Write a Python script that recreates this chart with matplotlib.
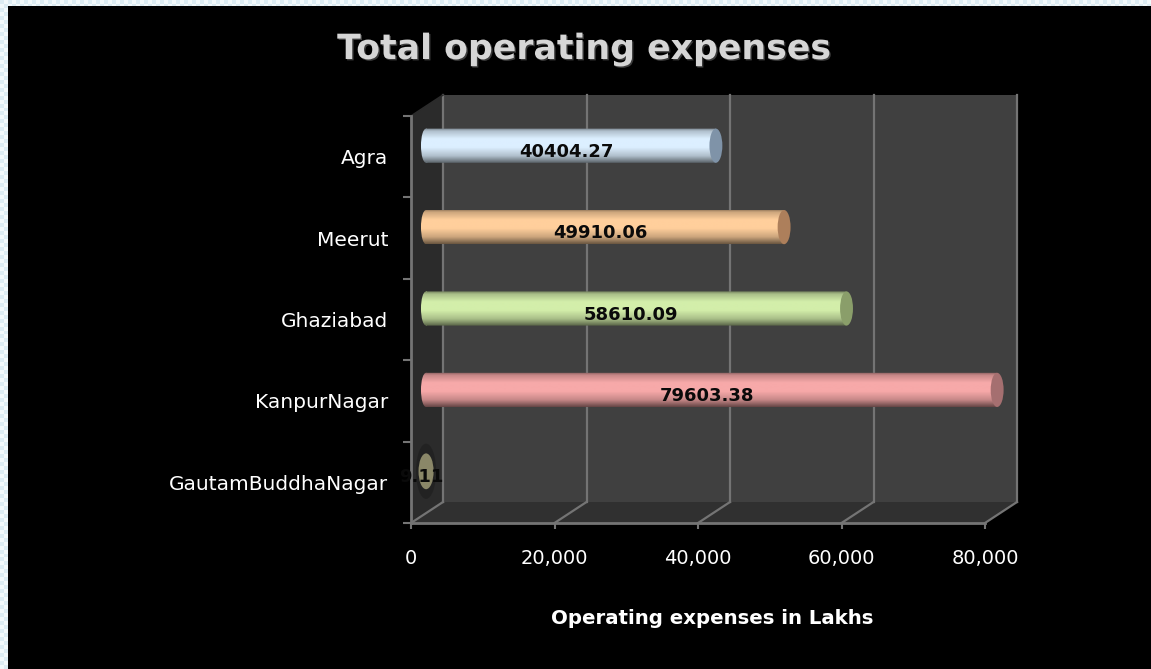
import matplotlib
matplotlib.use("Agg")
import matplotlib.pyplot as plt
import matplotlib.patheffects as pe
import numpy as np
from matplotlib.patches import Ellipse, Polygon
from matplotlib.path import Path
from matplotlib.transforms import Affine2D

W, H = 1151, 669

# bottom-up, same order as the category axis
categories = ["GautamBuddhaNagar", "KanpurNagar", "Ghaziabad", "Meerut", "Agra"]
values = [9.11, 79603.38, 58610.09, 49910.06, 40404.27]
value_labels = ["9.11", "79603.38", "58610.09", "49910.06", "40404.27"]
x_ticks = [0, 20000, 40000, 60000, 80000]
x_tick_labels = ["0", "20,000", "40,000", "60,000", "80,000"]

bar_colors = ["#8a8768", "#f7a9a9", "#d3eeaa", "#ffcf9c", "#dcefff"]
cap_colors = ["#77745a", "#a56f70", "#8a9e6a", "#ad7f5b", "#7f93a8"]

FONT = "DejaVu Sans"
GREY = "#747474"


def px_axes(fig, left, top, right, bottom):
    return fig.add_axes([left / W, 1 - bottom / H, (right - left) / W, (bottom - top) / H])


fig = plt.figure(figsize=(W / 100, H / 100), dpi=100, facecolor="black")

# pale checker border behind the black slide
bg = fig.add_axes([0, 0, 1, 1], zorder=0)
bg.set_xlim(0, W)
bg.set_ylim(H, 0)
bg.axis("off")
yy, xx = np.mgrid[0:H // 4 + 1, 0:W // 4 + 1]
bg.imshow((xx + yy) % 2, cmap=matplotlib.colors.ListedColormap(["#dcecf3", "#f2f9fb"]),
          extent=(0, W, H, 0), aspect="auto", interpolation="nearest")
bg.fill_between([8, W], 6, H, color="black", lw=0)

ax = px_axes(fig, 411, 116, 985, 523)
ax.set_zorder(1)
ax.patch.set_alpha(0)
ax.set_xlim(0, 80000)
ax.set_ylim(0, 5)
for spine in ax.spines.values():
    spine.set_visible(False)

# depth planes of the fake 3D box
back_t = ax.transData + Affine2D().translate(32, 21)
mid_t = ax.transData + Affine2D().translate(15, 11)
label_t = ax.transData + Affine2D().translate(10, 5)

# walls
ax.add_patch(Polygon([(0, 0), (80000, 0), (80000, 5), (0, 5)], transform=back_t,
                     fc="#404040", ec="none", clip_on=False, zorder=1))
left_xy = np.array([ax.transData.transform((0, 0)), back_t.transform((0, 0)),
                    back_t.transform((0, 5)), ax.transData.transform((0, 5))])
ax.add_patch(Polygon(left_xy, transform=None, fc="#2b2b2b", ec="none", clip_on=False, zorder=1))
floor_xy = np.array([ax.transData.transform((0, 0)), ax.transData.transform((80000, 0)),
                     back_t.transform((80000, 0)), back_t.transform((0, 0))])
ax.add_patch(Polygon(floor_xy, transform=None, fc="#303030", ec="none", clip_on=False, zorder=1))

# grid on the back wall and on the floor
for v in x_ticks:
    ax.plot([v, v], [0, 5], transform=back_t, color=GREY, lw=1.6, clip_on=False, zorder=2)
    p0 = ax.transData.transform((v, 0))
    p1 = back_t.transform((v, 0))
    ax.plot([p0[0], p1[0]], [p0[1], p1[1]], transform=None, color=GREY, lw=1.6, clip_on=False, zorder=2)
p0 = ax.transData.transform((0, 5))
p1 = back_t.transform((0, 5))
ax.plot([p0[0], p1[0]], [p0[1], p1[1]], transform=None, color="#2b2b2b", lw=1.2, clip_on=False, zorder=2)
ax.plot([0, 80000], [0, 0], color=GREY, lw=2, clip_on=False, zorder=2)
ax.plot([0, 0], [0, 5], color=GREY, lw=2, clip_on=False, zorder=2)

# cylinders
shade = np.interp(np.linspace(0, 1, 64), [0, 0.08, 0.3, 0.55, 0.8, 1], [0.55, 0.8, 1, 1, 0.8, 0.42])
bar_h = 0.42
cap_w = 1800
left_w = 1400
for i, (val, col, cap) in enumerate(zip(values, bar_colors, cap_colors)):
    y = i + 0.5
    if val > 1000:
        rgb = np.array(matplotlib.colors.to_rgb(col))
        grad = (shade[:, None] * rgb)[:, None, :]
        im = ax.imshow(grad, extent=(-left_w / 2, val, y - bar_h / 2, y + bar_h / 2), aspect="auto",
                       origin="upper", transform=mid_t, zorder=3, interpolation="bilinear")
        outline = Path.make_compound_path(
            Path.unit_rectangle().transformed(Affine2D().scale(val, bar_h).translate(0, y - bar_h / 2)),
            Path.unit_circle().transformed(Affine2D().scale(left_w / 2, bar_h / 2).translate(0, y)),
        )
        im.set_clip_box(fig.bbox)
        im.set_clip_path(outline, mid_t)
        ax.add_patch(Ellipse((val, y), cap_w, bar_h, transform=mid_t, fc=cap, ec="none",
                             clip_on=False, zorder=4))
    else:
        # the near-zero bar only shows its end cap, sitting in a soft shadow
        ax.add_patch(Ellipse((val, y), 2800, 0.68, transform=mid_t, fc="#1c1c1c", ec="none", alpha=0.55,
                             clip_on=False, zorder=3))
        ax.add_patch(Ellipse((val, y), 2100, 0.44, transform=mid_t, fc=col, ec="none",
                             clip_on=False, zorder=4))
    ax.text(val / 2, y, value_labels[i], transform=label_t, ha="center", va="center", color="#0a0a0a",
            fontsize=13, fontweight="bold", family=FONT, clip_on=False, zorder=5)

ax.set_xlim(0, 80000)
ax.set_ylim(0, 5)

# axes ticks
ax.set_xticks(x_ticks)
ax.set_xticklabels(x_tick_labels, family=FONT, fontsize=14, color="white")
ax.tick_params(axis="x", which="major", length=4, width=1.5, color=GREY, pad=15)
ax.set_yticks(range(6))
ax.set_yticklabels([])
ax.tick_params(axis="y", which="major", length=6, width=1.5, color=GREY)
ax.set_yticks(np.arange(5) + 0.5, minor=True)
ax.set_yticklabels(categories, minor=True, family=FONT, fontsize=14.5, color="white")
ax.tick_params(axis="y", which="minor", length=0, pad=16.5)

fig.text(584 / W, 1 - 49 / H, "Total operating expenses", ha="center", va="center", family=FONT,
         fontsize=25, fontweight="bold", color="#d6d6d6",
         path_effects=[pe.withSimplePatchShadow(offset=(1, -1), shadow_rgbFace="#555555", alpha=0.7)])
fig.text(712 / W, 1 - 618 / H, "Operating expenses in Lakhs", ha="center", va="center", family=FONT,
         fontsize=14.2, fontweight="bold", color="white")

fig.savefig("out.png", dpi=100, facecolor="black")
